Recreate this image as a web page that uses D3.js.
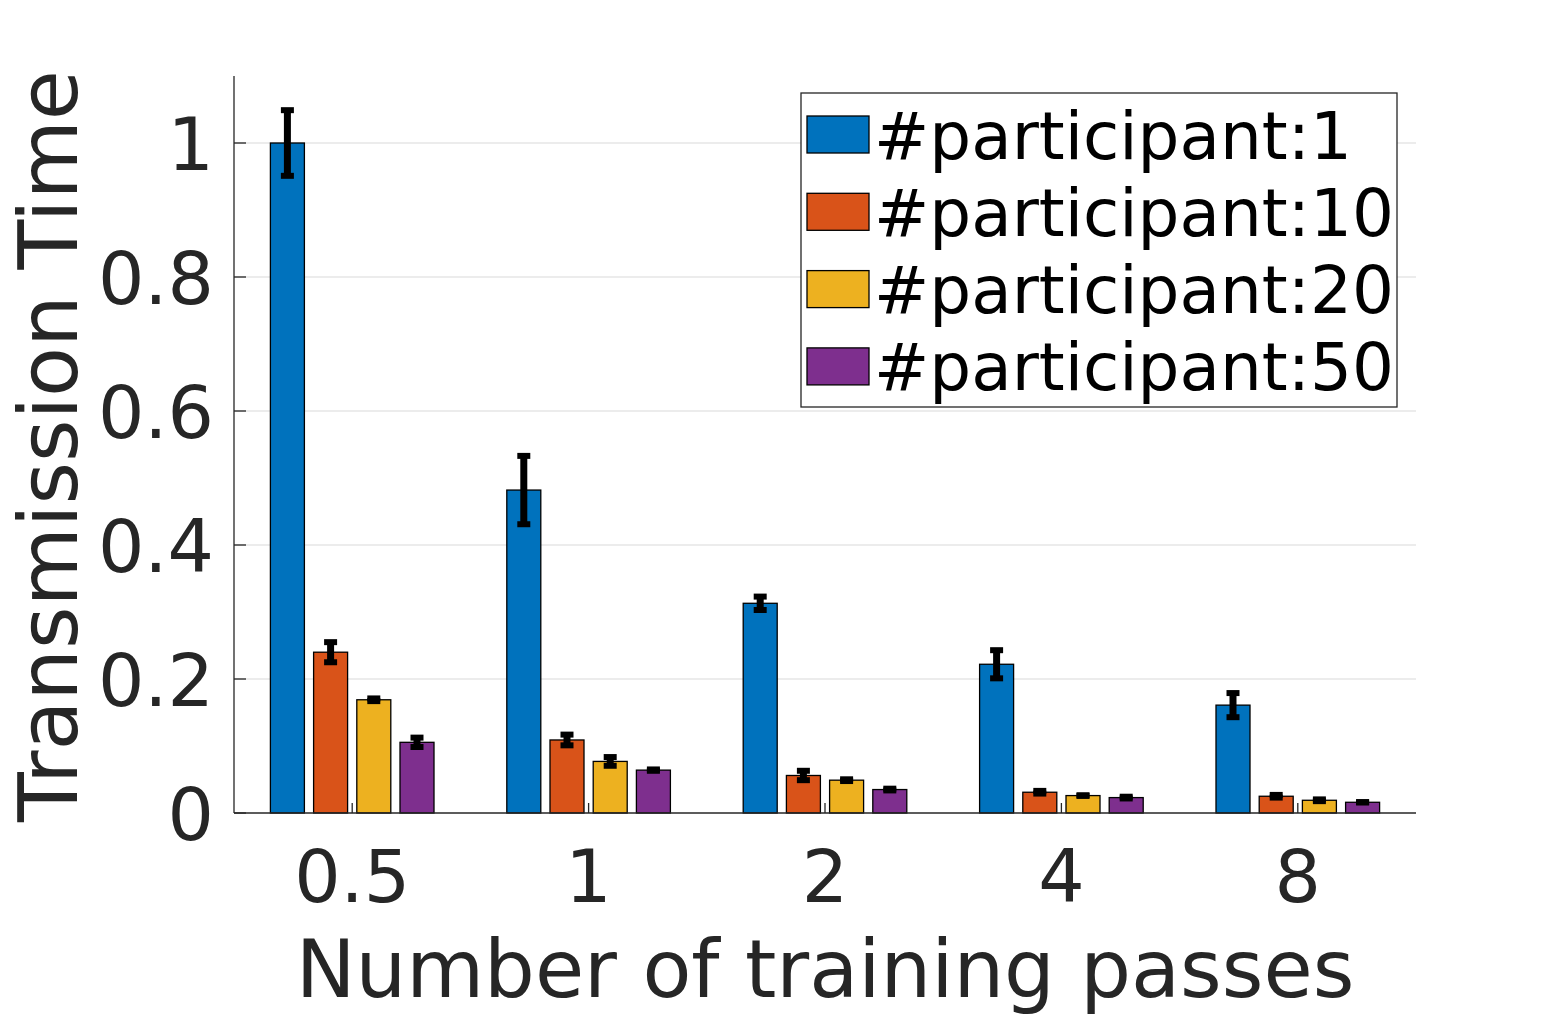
<!DOCTYPE html>
<html>
<head>
<meta charset="utf-8">
<script src="https://cdn.jsdelivr.net/npm/d3@7"></script>
<style>
  body { margin: 0; background: #fff; }
  text { font-family: "DejaVu Sans", sans-serif; }
</style>
</head>
<body>
<svg id="chart"></svg>
<script>
var passes = ['0.5', '1', '2', '4', '8']
var series = ['#participant:1', '#participant:10', '#participant:20', '#participant:50']
var colors = ['#0072BD', '#D95319', '#EDB120', '#7E2F8E']

var means1 = [1.0, 0.482, 0.313, 0.222, 0.161]
var means10 = [0.240, 0.109, 0.056, 0.031, 0.025]
var means20 = [0.169, 0.077, 0.049, 0.026, 0.019]
var means50 = [0.1055, 0.064, 0.035, 0.023, 0.016]

var errs1 = [0.049, 0.051, 0.010, 0.021, 0.018]
var errs10 = [0.015, 0.008, 0.007, 0.002, 0.002]
var errs20 = [0.002, 0.0065, 0.0013, 0.0005, 0.0013]
var errs50 = [0.007, 0.001, 0.0013, 0.0013, 0.0003]

var yTicks = [0, 0.2, 0.4, 0.6, 0.8, 1]

;(function () {
  var w = 1563
  var h = 1016
  var left = 234
  var right = 1416
  var top = 76
  var bottom = 813
  var ink = '#262626'

  var means = [means1, means10, means20, means50]
  var errs = [errs1, errs10, errs20, errs50]

  var svg = d3.select('#chart').attr('width', w).attr('height', h)

  var x = d3.scaleBand().domain(passes).range([left, right])
  var xs = d3.scaleBand().domain(series).range([-86.4, 86.4])
              .paddingInner(0.213).paddingOuter(0.1065)
  var y = d3.scaleLinear().domain([0, 1.1]).range([bottom, top])

  // grid
  svg.append('g')
    .selectAll('line')
    .data(yTicks.slice(1))
    .enter().append('line')
      .attr('x1', left).attr('x2', right)
      .attr('y1', d => y(d)).attr('y2', d => y(d))
      .attr('stroke', '#dadada').attr('stroke-width', 1.2)

  // flatten data
  var rows = []
  series.forEach((s, si) => {
    passes.forEach((p, pi) => {
      rows.push({ s: s, si: si, p: p, v: means[si][pi], e: errs[si][pi] })
    })
  })

  var bars = svg.append('g')
  bars.selectAll('rect')
    .data(rows)
    .enter().append('rect')
      .attr('x', d => x(d.p) + x.bandwidth() / 2 + xs(d.s))
      .attr('width', xs.bandwidth())
      .attr('y', d => y(d.v))
      .attr('height', d => y(0) - y(d.v))
      .attr('fill', d => colors[d.si])
      .attr('stroke', '#000')
      .attr('stroke-width', 1.3)

  // error bars
  var eb = svg.append('g').attr('stroke', '#000')
  rows.forEach(d => {
    var cx = x(d.p) + x.bandwidth() / 2 + xs(d.s) + xs.bandwidth() / 2
    eb.append('line')
      .attr('x1', cx).attr('x2', cx)
      .attr('y1', y(d.v + d.e)).attr('y2', y(d.v - d.e))
      .attr('stroke-width', 7)
    ;[d.v + d.e, d.v - d.e].forEach(c => {
      eb.append('line')
        .attr('x1', cx - 6.5).attr('x2', cx + 6.5)
        .attr('y1', y(c)).attr('y2', y(c))
        .attr('stroke-width', 6)
    })
  })

  // axes
  var yAxis = svg.append('g')
  yAxis.append('line')
    .attr('x1', left).attr('x2', left).attr('y1', top).attr('y2', bottom)
    .attr('stroke', ink).attr('stroke-width', 1.3)
  yAxis.selectAll('.tk')
    .data(yTicks)
    .enter().append('line')
      .attr('x1', left).attr('x2', left + 12)
      .attr('y1', d => y(d)).attr('y2', d => y(d))
      .attr('stroke', ink).attr('stroke-width', 1.3)
  yAxis.selectAll('text')
    .data(yTicks)
    .enter().append('text')
      .attr('x', 214)
      .attr('y', d => y(d))
      .attr('dy', '0.365em')
      .attr('text-anchor', 'end')
      .attr('font-size', 73)
      .attr('fill', ink)
      .text(d => d3.format('~g')(d))

  var xAxis = svg.append('g')
  xAxis.append('line')
    .attr('x1', left).attr('x2', right).attr('y1', bottom).attr('y2', bottom)
    .attr('stroke', ink).attr('stroke-width', 1.3)
  xAxis.selectAll('.tk')
    .data(passes)
    .enter().append('line')
      .attr('x1', d => x(d) + x.bandwidth() / 2).attr('x2', d => x(d) + x.bandwidth() / 2)
      .attr('y1', bottom).attr('y2', bottom - 10)
      .attr('stroke', ink).attr('stroke-width', 1.3)
  xAxis.selectAll('text')
    .data(passes)
    .enter().append('text')
      .attr('x', d => x(d) + x.bandwidth() / 2)
      .attr('y', 902)
      .attr('text-anchor', 'middle')
      .attr('font-size', 73)
      .attr('fill', ink)
      .text(d => d)

  svg.append('text')
    .attr('x', (left + right) / 2)
    .attr('y', 997)
    .attr('text-anchor', 'middle')
    .attr('font-size', 80)
    .attr('fill', ink)
    .text('Number of training passes')

  svg.append('text')
    .attr('transform', 'translate(77,446) rotate(-90)')
    .attr('text-anchor', 'middle')
    .attr('font-size', 81.5)
    .attr('fill', ink)
    .text('Transmission Time')

  // legend
  var lg = svg.append('g')
  lg.append('rect')
    .attr('x', 801).attr('y', 93).attr('width', 596).attr('height', 314)
    .attr('fill', '#fff').attr('stroke', ink).attr('stroke-width', 1.3)
  var item = lg.selectAll('.item')
    .data(series)
    .enter().append('g')
      .attr('transform', (d, i) => 'translate(0,' + (134.5 + i * 77.3) + ')')
  item.append('rect')
    .attr('x', 807).attr('y', -18.5).attr('width', 62).attr('height', 37)
    .attr('fill', (d, i) => colors[i])
    .attr('stroke', '#000').attr('stroke-width', 1.3)
  item.append('text')
    .attr('x', 874)
    .attr('y', 24)
    .attr('font-size', 66)
    .attr('fill', '#000')
    .text(d => d)
})()
</script>
</body>
</html>
